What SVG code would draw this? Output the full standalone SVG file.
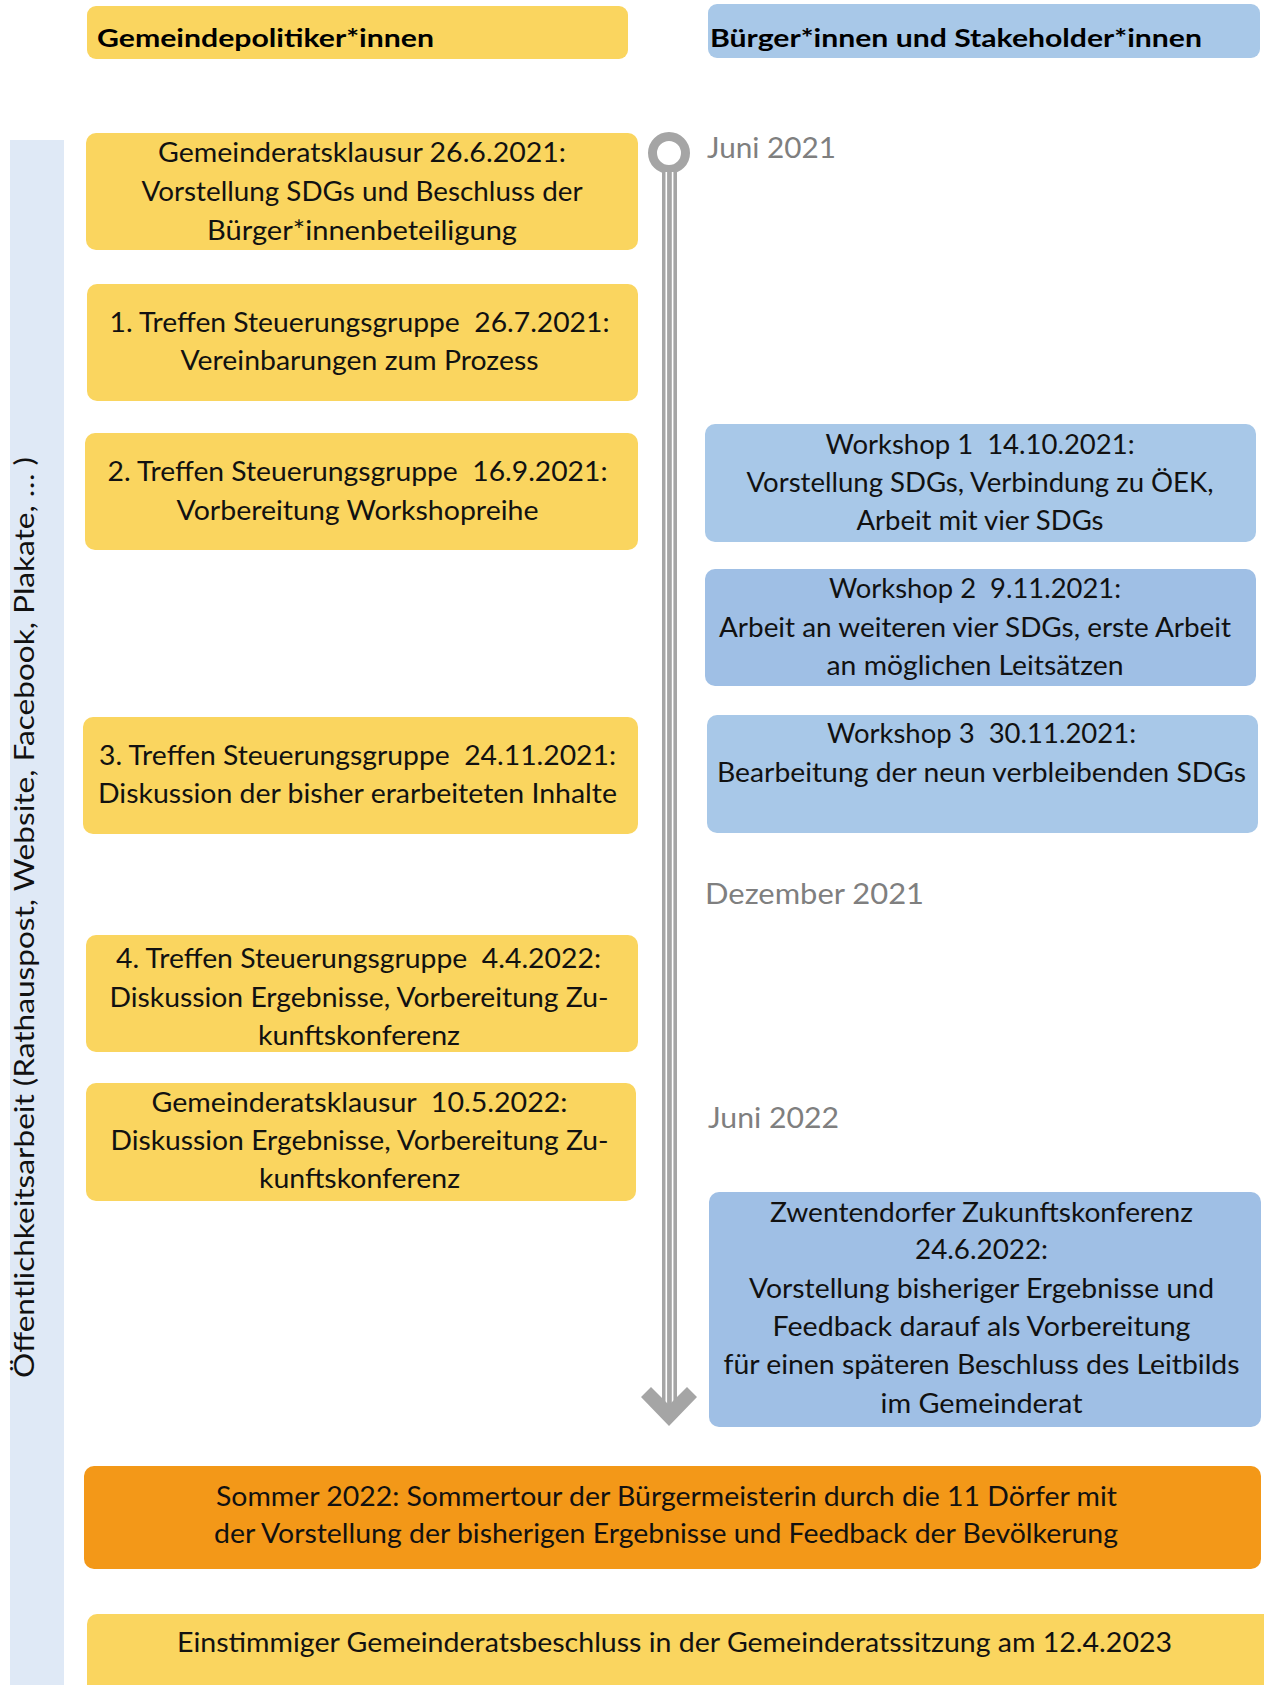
<svg xmlns="http://www.w3.org/2000/svg" width="1264" height="1685" viewBox="0 0 1264 1685" xml:space="preserve">
<style>
.y{fill:#fad55f}
.b{fill:#a8c8e8}
.b2{fill:#9fbfe5}
.o{fill:#f39818}
text{white-space:pre}
.t{font-family:Lato,"Open Sans","Liberation Sans",sans-serif;font-size:27px;fill:#111;text-anchor:middle}
.h{font-family:Lato,"Open Sans","Liberation Sans",sans-serif;font-size:24px;font-weight:700;fill:#000}
.d{font-family:Lato,"Open Sans","Liberation Sans",sans-serif;font-size:28px;fill:#7f7f7f}
.g{fill:#a5a5a5}
</style>
<rect width="1264" height="1685" fill="#fff"/>
<g id="side-bar">
<rect x="10" y="140" width="54" height="1545" fill="#dfe9f6"/>
<text class="t" transform="translate(34,917.5) rotate(-90)" textLength="921" lengthAdjust="spacingAndGlyphs">Öffentlichkeitsarbeit (Rathauspost, Website, Facebook, Plakate, … )</text>
</g>
<g id="header-left">
<rect class="y" x="87" y="6" width="541" height="53" rx="9"/>
<text class="h" x="97" y="47" textLength="337" lengthAdjust="spacingAndGlyphs">Gemeindepolitiker*innen</text>
</g>
<g id="header-right">
<rect class="b" x="708" y="4" width="552" height="54" rx="9"/>
<text class="h" x="710" y="47" textLength="492" lengthAdjust="spacingAndGlyphs">Bürger*innen und Stakeholder*innen</text>
</g>
<g id="connectors">
<circle cx="669" cy="153" r="16.5" fill="none" stroke="#a5a5a5" stroke-width="9"/>
<rect class="g" x="662" y="169" width="15" height="1238"/>
<line x1="666.3" y1="172" x2="666.3" y2="1404" stroke="#fff" stroke-width="1.6"/>
<line x1="672.6" y1="172" x2="672.6" y2="1404" stroke="#fff" stroke-width="1.6"/>
<polygon class="g" points="641,1397 651,1387 669,1405 687,1387 697,1397 669,1426"/>
</g>
<g id="date-juni-2021"><text class="d" x="707" y="158" textLength="129" lengthAdjust="spacingAndGlyphs">Juni 2021</text></g>
<g id="date-dezember-2021"><text class="d" x="705" y="904" textLength="219" lengthAdjust="spacingAndGlyphs">Dezember 2021</text></g>
<g id="date-juni-2022"><text class="d" x="708" y="1128" textLength="131" lengthAdjust="spacingAndGlyphs">Juni 2022</text></g>
<g id="gr-klausur-2021">
<rect class="y" x="86" y="133" width="552" height="117" rx="10"/>
<text class="t" x="362" y="162" textLength="408" lengthAdjust="spacingAndGlyphs">Gemeinderatsklausur 26.6.2021:</text>
<text class="t" x="362" y="201" textLength="441" lengthAdjust="spacingAndGlyphs">Vorstellung SDGs und Beschluss der</text>
<text class="t" x="362" y="240" textLength="310" lengthAdjust="spacingAndGlyphs">Bürger*innenbeteiligung</text>
</g>
<g id="treffen-1">
<rect class="y" x="87" y="284" width="551" height="117" rx="10"/>
<text class="t" x="359.5" y="331.5" textLength="500" lengthAdjust="spacingAndGlyphs">1. Treffen Steuerungsgruppe  26.7.2021:</text>
<text class="t" x="359.5" y="370" textLength="358" lengthAdjust="spacingAndGlyphs">Vereinbarungen zum Prozess</text>
</g>
<g id="treffen-2">
<rect class="y" x="85" y="433" width="553" height="117" rx="10"/>
<text class="t" x="357.5" y="481" textLength="500" lengthAdjust="spacingAndGlyphs">2. Treffen Steuerungsgruppe  16.9.2021:</text>
<text class="t" x="357.5" y="519.5" textLength="362" lengthAdjust="spacingAndGlyphs">Vorbereitung Workshopreihe</text>
</g>
<g id="treffen-3">
<rect class="y" x="83" y="717" width="555" height="117" rx="10"/>
<text class="t" x="357.5" y="764.5" textLength="517" lengthAdjust="spacingAndGlyphs">3. Treffen Steuerungsgruppe  24.11.2021:</text>
<text class="t" x="357.5" y="803" textLength="519" lengthAdjust="spacingAndGlyphs">Diskussion der bisher erarbeiteten Inhalte</text>
</g>
<g id="treffen-4">
<rect class="y" x="86" y="935" width="552" height="117" rx="10"/>
<text class="t" x="358.5" y="968" textLength="485" lengthAdjust="spacingAndGlyphs">4. Treffen Steuerungsgruppe  4.4.2022:</text>
<text class="t" x="359" y="1006.5" textLength="499" lengthAdjust="spacingAndGlyphs">Diskussion Ergebnisse, Vorbereitung Zu-</text>
<text class="t" x="359" y="1045" textLength="202" lengthAdjust="spacingAndGlyphs">kunftskonferenz</text>
</g>
<g id="gr-klausur-2022">
<rect class="y" x="86" y="1083" width="550" height="118" rx="10"/>
<text class="t" x="359.5" y="1112" textLength="416" lengthAdjust="spacingAndGlyphs">Gemeinderatsklausur  10.5.2022:</text>
<text class="t" x="359.5" y="1149.5" textLength="498" lengthAdjust="spacingAndGlyphs">Diskussion Ergebnisse, Vorbereitung Zu-</text>
<text class="t" x="359.5" y="1188" textLength="201" lengthAdjust="spacingAndGlyphs">kunftskonferenz</text>
</g>
<g id="workshop-1">
<rect class="b" x="705" y="424" width="551" height="118" rx="10"/>
<text class="t" x="980" y="454" textLength="309" lengthAdjust="spacingAndGlyphs">Workshop 1  14.10.2021:</text>
<text class="t" x="980" y="492" textLength="467" lengthAdjust="spacingAndGlyphs">Vorstellung SDGs, Verbindung zu ÖEK,</text>
<text class="t" x="980" y="530" textLength="247" lengthAdjust="spacingAndGlyphs">Arbeit mit vier SDGs</text>
</g>
<g id="workshop-2">
<rect class="b2" x="705" y="569" width="551" height="117" rx="10"/>
<text class="t" x="975" y="598" textLength="292" lengthAdjust="spacingAndGlyphs">Workshop 2  9.11.2021:</text>
<text class="t" x="975" y="637" textLength="512" lengthAdjust="spacingAndGlyphs">Arbeit an weiteren vier SDGs, erste Arbeit</text>
<text class="t" x="975" y="675" textLength="297" lengthAdjust="spacingAndGlyphs">an möglichen Leitsätzen</text>
</g>
<g id="workshop-3">
<rect class="b" x="707" y="715" width="551" height="118" rx="10"/>
<text class="t" x="981.5" y="743" textLength="309" lengthAdjust="spacingAndGlyphs">Workshop 3  30.11.2021:</text>
<text class="t" x="981.5" y="782" textLength="529" lengthAdjust="spacingAndGlyphs">Bearbeitung der neun verbleibenden SDGs</text>
</g>
<g id="zukunftskonferenz">
<rect class="b2" x="709" y="1192" width="552" height="235" rx="10"/>
<text class="t" x="981.5" y="1222" textLength="423" lengthAdjust="spacingAndGlyphs">Zwentendorfer Zukunftskonferenz</text>
<text class="t" x="981.5" y="1259" textLength="133" lengthAdjust="spacingAndGlyphs">24.6.2022:</text>
<text class="t" x="981.5" y="1298" textLength="465" lengthAdjust="spacingAndGlyphs">Vorstellung bisheriger Ergebnisse und</text>
<text class="t" x="981.5" y="1336" textLength="418" lengthAdjust="spacingAndGlyphs">Feedback darauf als Vorbereitung</text>
<text class="t" x="981.5" y="1374" textLength="516" lengthAdjust="spacingAndGlyphs">für einen späteren Beschluss des Leitbilds</text>
<text class="t" x="981.5" y="1413" textLength="202" lengthAdjust="spacingAndGlyphs">im Gemeinderat</text>
</g>
<g id="sommertour">
<rect class="o" x="84" y="1466" width="1177" height="103" rx="10"/>
<text class="t" x="666.5" y="1506" textLength="901" lengthAdjust="spacingAndGlyphs">Sommer 2022: Sommertour der Bürgermeisterin durch die 11 Dörfer mit</text>
<text class="t" x="666" y="1543" textLength="904" lengthAdjust="spacingAndGlyphs">der Vorstellung der bisherigen Ergebnisse und Feedback der Bevölkerung</text>
</g>
<g id="beschluss">
<rect class="y" x="87" y="1614" width="1190" height="90" rx="10"/>
<text class="t" x="674.5" y="1652" textLength="995" lengthAdjust="spacingAndGlyphs">Einstimmiger Gemeinderatsbeschluss in der Gemeinderatssitzung am 12.4.2023</text>
</g>
</svg>
